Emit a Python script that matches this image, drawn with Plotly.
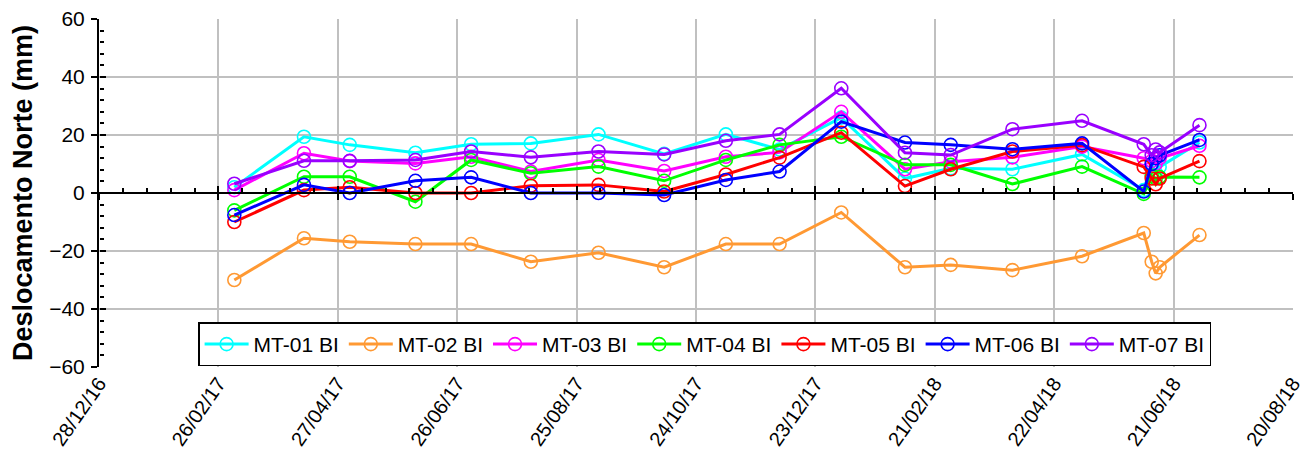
import plotly.graph_objects as go

dates = [
    "2017-03-06", "2017-04-10", "2017-05-03", "2017-06-05", "2017-07-03",
    "2017-08-02", "2017-09-05", "2017-10-08", "2017-11-08", "2017-12-05",
    "2018-01-05", "2018-02-06", "2018-03-01", "2018-04-01", "2018-05-06",
    "2018-06-06", "2018-06-10", "2018-06-12", "2018-06-14", "2018-07-04",
]

mt01 = [2, 19.4, 16.6, 13.9, 16.8, 17.1, 20.2, 13.5, 20.2, 15, 26, 5, 8.5, 8.2, 13.3, 1, 10, 7, 9, 17.4]
mt02 = [-30, -15.6, -16.8, -17.6, -17.6, -23.7, -20.6, -25.6, -17.6, -17.6, -6.7, -25.6, -24.8, -26.6, -21.8, -13.8, -23.7, -27.7, -25.6, -14.5]
mt03 = [1, 13.7, 11, 10.2, 12.5, 7.4, 11.4, 7.6, 12.5, 14, 28, 8.2, 10.8, 12.3, 16, 12, 11, 10, 12, 16.3]
mt04 = [-6, 5.6, 5.6, -3, 11.4, 6.8, 9.1, 4.2, 11.4, 16.6, 19.4, 9.7, 9.7, 3.1, 9.1, -0.3, 6, 5, 5.5, 5.4]
mt05 = [-10, 1, 2, 0, 0, 2.5, 2.8, 0.5, 6.4, 12.2, 20.8, 2.4, 8.2, 14.3, 16.5, 9, 5, 3, 5, 11]
mt06 = [-7.6, 2.8, 0, 4.2, 5.4, 0, 0, -0.7, 4.5, 7.4, 24.6, 17.4, 16.6, 15.1, 17.1, 0.5, 10, 12, 13, 18.3]
mt07 = [3.2, 11.1, 11.1, 11.4, 14.3, 12.3, 14.3, 13.3, 18, 20.2, 36.1, 13.9, 13.1, 22, 24.9, 16.8, 13, 15, 14, 23.4]

series = [
    ("MT-01 BI", mt01, "#00FFFF"),
    ("MT-02 BI", mt02, "#FF9933"),
    ("MT-03 BI", mt03, "#FF00FF"),
    ("MT-04 BI", mt04, "#00FF00"),
    ("MT-05 BI", mt05, "#FF0000"),
    ("MT-06 BI", mt06, "#0000FF"),
    ("MT-07 BI", mt07, "#9900FF"),
]

x_range = ["2016-12-28", "2018-08-20"]
DAY = 86400000
FONT = "Liberation Sans, Arial, sans-serif"

fig = go.Figure()

for name, values, color in series:
    fig.add_trace(
        go.Scatter(
            x=dates,
            y=values,
            name=name,
            mode="lines+markers",
            line=dict(color=color, width=3),
            marker=dict(
                symbol="circle-open",
                size=13,
                color=color,
                line=dict(width=1.6, color=color),
            ),
        )
    )

# empty helper traces so the extra tick axes get drawn
for xa, ya in [("x2", "y"), ("x3", "y"), ("x", "y2")]:
    fig.add_trace(
        go.Scatter(x=[], y=[], xaxis=xa, yaxis=ya, showlegend=False, hoverinfo="skip")
    )

# page body has an 8px margin, so the figure is sized/offset to compensate
fig.update_layout(
    width=1302,
    height=455,
    margin=dict(l=91, r=17, t=11, b=96),
    paper_bgcolor="white",
    plot_bgcolor="white",
    font=dict(family=FONT, size=20, color="black"),
    showlegend=True,
    legend=dict(
        orientation="h",
        x=0.083,
        y=0.128,
        xanchor="left",
        yanchor="top",
        bgcolor="white",
        bordercolor="black",
        borderwidth=1.5,
        font=dict(size=21),
        itemwidth=44,
        tracegroupgap=0,
    ),
    xaxis=dict(
        type="date",
        range=x_range,
        tick0=x_range[0],
        dtick=60 * DAY,
        tickformat="%d/%m/%y",
        tickangle=-55,
        showgrid=True,
        gridcolor="#C0C0C0",
        gridwidth=1.5,
        showline=False,
        ticks="",
        zeroline=False,
        automargin=False,
        ticklabeloverflow="allow",
        tickfont=dict(size=20),
    ),
    xaxis2=dict(
        type="date",
        range=x_range,
        overlaying="x",
        anchor="free",
        position=0.5,
        tick0=x_range[0],
        dtick=60 * DAY,
        showticklabels=False,
        showgrid=False,
        showline=True,
        linecolor="black",
        linewidth=2,
        ticks="inside",
        ticklen=6,
        tickwidth=2,
        tickcolor="black",
        automargin=False,
        minor=dict(ticks="inside", ticklen=4, tickwidth=1.5, tickcolor="black", dtick=12 * DAY, tick0=x_range[0], showgrid=False),
    ),
    xaxis3=dict(
        type="date",
        range=x_range,
        overlaying="x",
        anchor="free",
        position=0.5,
        tick0=x_range[0],
        dtick=60 * DAY,
        showticklabels=False,
        showgrid=False,
        showline=False,
        ticks="outside",
        ticklen=6,
        tickwidth=2,
        tickcolor="black",
        automargin=False,
    ),
    yaxis=dict(
        range=[-60, 60],
        dtick=20,
        title=dict(text="<b>Deslocamento Norte (mm)</b>", font=dict(size=27), standoff=20),
        showgrid=True,
        gridcolor="#C0C0C0",
        gridwidth=1.5,
        zeroline=False,
        showline=True,
        linecolor="black",
        linewidth=2,
        ticks="outside",
        ticklen=6,
        tickwidth=2,
        tickcolor="black",
        automargin=False,
        ticklabelstandoff=2,
        ticklabeloverflow="allow",
        tickfont=dict(size=21),
    ),
    yaxis2=dict(
        range=[-60, 60],
        dtick=20,
        overlaying="y",
        anchor="free",
        position=0,
        side="left",
        showticklabels=False,
        showgrid=False,
        zeroline=False,
        showline=False,
        ticks="inside",
        ticklen=6,
        tickwidth=2,
        tickcolor="black",
        automargin=False,
        minor=dict(ticks="inside", ticklen=4, tickwidth=1.5, tickcolor="black", dtick=4, showgrid=False),
    ),
)

fig.write_html("out.html")
